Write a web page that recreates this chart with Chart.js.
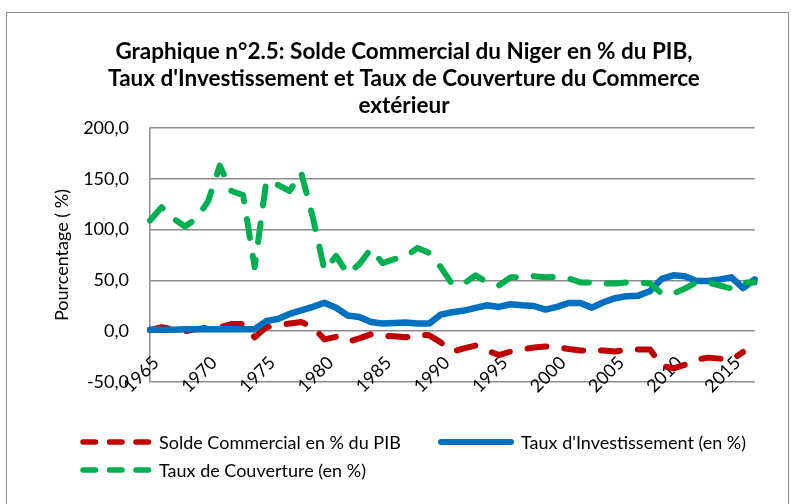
<!DOCTYPE html>
<html lang="fr">
<head>
<meta charset="UTF-8">
<title>Graphique n°2.5</title>
<script src="https://cdn.jsdelivr.net/npm/chart.js"></script>
<style>
    body { margin: 0; background: #fff; }
    #wrap { position: relative; width: 791px; height: 504px; overflow: hidden; font-family: Lato, sans-serif; }
    #frame { position: absolute; left: 6px; top: 12px; width: 781px; height: 520px; border: 1.5px solid #8c8c8c; }
    canvas { position: absolute; left: 0; top: 0; }
    .leg { position: absolute; display: flex; align-items: center; font-size: 18px; color: #000; white-space: nowrap; }
    .leg svg { margin-right: 5px; }
</style>
</head>
<body>
<div id="wrap">
    <div id="frame"></div>
    <canvas id="chart" width="791" height="504"></canvas>

    <!-- legend, laid out like the Excel one: two items on the first row, one below -->
    <div class="leg" style="left:80px; top:431px;">
        <svg width="74" height="10"><line x1="3" y1="5" x2="71" y2="5" stroke="#C00000" stroke-width="5.5" stroke-linecap="round" stroke-dasharray="12.5 14"/></svg>
        <span>Solde Commercial en % du PIB</span>
    </div>
    <div class="leg" style="left:438px; top:431px;">
        <svg width="78" height="10"><line x1="3" y1="5" x2="73" y2="5" stroke="#0070C0" stroke-width="6" stroke-linecap="round"/></svg>
        <span>Taux d'Investissement (en %)</span>
    </div>
    <div class="leg" style="left:80px; top:459px;">
        <svg width="74" height="10"><line x1="3" y1="5" x2="71" y2="5" stroke="#00B050" stroke-width="5.5" stroke-linecap="round" stroke-dasharray="12.5 14"/></svg>
        <span>Taux de Couverture (en %)</span>
    </div>
</div>

<script>
    // years on the category axis
    const years = [1965, 1966, 1967, 1968, 1969, 1970, 1971, 1972, 1973, 1974,
                   1975, 1976, 1977, 1978, 1979, 1980, 1981, 1982, 1983, 1984,
                   1985, 1986, 1987, 1988, 1989, 1990, 1991, 1992, 1993, 1994,
                   1995, 1996, 1997, 1998, 1999, 2000, 2001, 2002, 2003, 2004,
                   2005, 2006, 2007, 2008, 2009, 2010, 2011, 2012, 2013, 2014,
                   2015, 2016, 2017];

    // Solde Commercial en % du PIB (no value for 2017)
    const soldeCommercial = [1, 4, 2, 0, 2, 3.5, 4, 7, 7, -6,
                             4, 6, 7.5, 9, 4, -8, -5.5, -10.5, -7, -3,
                             -4.5, -5, -6, -3.5, -4, -11, -20, -17, -14, -19,
                             -23.5, -20, -18, -16, -15, -15.5, -17.5, -19, -18.5, -19,
                             -20, -18, -18, -18, -34, -36.5, -33, -28, -26, -27,
                             -28, -20.5, null];

    // Taux d'Investissement (en %)
    const tauxInvestissement = [1.5, 1.5, 1.5, 2, 2, 2, 2, 2, 2, 2,
                                10, 12, 17, 20.5, 24, 28, 23, 15.5, 14, 9,
                                7.5, 8, 8.5, 7.5, 7.5, 16.3, 18.6, 20.3, 22.9, 25.5,
                                23.9, 26.5, 25.5, 24.8, 21.3, 23.9, 27.8, 27.8, 23.2, 28.5,
                                32.5, 34.5, 35, 39.5, 51.5, 55, 54, 49.5, 49.5, 51,
                                53, 42.5, 51];

    // Taux de Couverture (en %)
    const tauxCouverture = [109, 122, 111, 103, 111, 128, 163, 138, 134, 63,
                            148, 144, 138, 156, 112, 60, 74, 56.5, 66, 81,
                            67, 71, 73.5, 82, 77, 63, 46, 47, 55, 48,
                            45, 53, 53, 54, 53, 53.5, 52, 48, 48, 47,
                            47, 48, 48, 47, 37, 37, 42, 48, 48, 45,
                            42, 48, 48];

    const yTicks = [-50, 0, 50, 100, 150, 200];

    const gridColor = '#8c8c8c';
    const font = 'Lato';

    const ctx = document.getElementById('chart').getContext('2d');
    new Chart(ctx, {
        type: 'line',
        data: {
            labels: years,
            // order: red drawn first, green last (on top), as in Excel
            datasets: [{
                label: 'Solde Commercial en % du PIB',
                data: soldeCommercial,
                borderColor: '#C00000',
                borderWidth: 6,
                borderDash: [19, 18],
                order: 3
            }, {
                label: "Taux d'Investissement (en %)",
                data: tauxInvestissement,
                borderColor: '#0070C0',
                borderWidth: 6.5,
                order: 2
            }, {
                label: 'Taux de Couverture (en %)',
                data: tauxCouverture,
                borderColor: '#00B050',
                borderWidth: 6,
                borderDash: [19, 18],
                order: 1
            }]
        },
        options: {
            responsive: false,
            animation: false,
            // left padding + empty right axis keep the title centred like the original
            layout: { padding: { left: 17, right: 0, top: 0, bottom: 122 } },
            elements: {
                point: { radius: 0 },
                line: { tension: 0, fill: false, borderCapStyle: 'round', borderJoinStyle: 'round' }
            },
            plugins: {
                legend: { display: false },
                tooltip: { enabled: false },
                title: {
                    display: true,
                    text: ['Graphique n°2.5: Solde Commercial du Niger en % du PIB,',
                           "Taux d'Investissement et Taux de Couverture du Commerce",
                           'extérieur'],
                    color: '#000',
                    font: { family: font, size: 22.5, weight: 'bold', lineHeight: 1.2 },
                    padding: { top: 38, bottom: 9 }
                }
            },
            scales: {
                y: {
                    min: -50,
                    max: 200,
                    afterBuildTicks: s => { s.ticks = yTicks.map(v => ({ value: v })); },
                    afterFit: s => { s.width = 133; },
                    ticks: {
                        color: '#000',
                        padding: 21,
                        font: { family: font, size: 18 },
                        callback: v => v.toFixed(1).replace('.', ',')
                    },
                    grid: { color: gridColor, lineWidth: 1.5, drawTicks: false },
                    border: { color: gridColor, width: 1.5 },
                    title: {
                        display: true,
                        text: 'Pourcentage ( %)',
                        color: '#000',
                        font: { family: font, size: 18 },
                        padding: { top: 34, bottom: 0 }
                    }
                },
                yRight: {
                    type: 'linear',
                    position: 'right',
                    afterFit: s => { s.width = 19; },
                    grid: { display: false, drawTicks: false },
                    border: { display: false },
                    ticks: { display: false }
                },
                x: {
                    position: { y: 0 },
                    afterFit: s => { s.height = 0; },
                    grid: { display: false, drawTicks: false },
                    border: { display: false },
                    ticks: {
                        color: '#000',
                        autoSkip: false,
                        minRotation: 45,
                        maxRotation: 45,
                        padding: 21,
                        labelOffset: 6,
                        font: { family: font, size: 18 },
                        callback: (v, i) => (years[i] % 5 === 0 ? String(years[i]) : '')
                    }
                }
            }
        }
    });
</script>
</body>
</html>
